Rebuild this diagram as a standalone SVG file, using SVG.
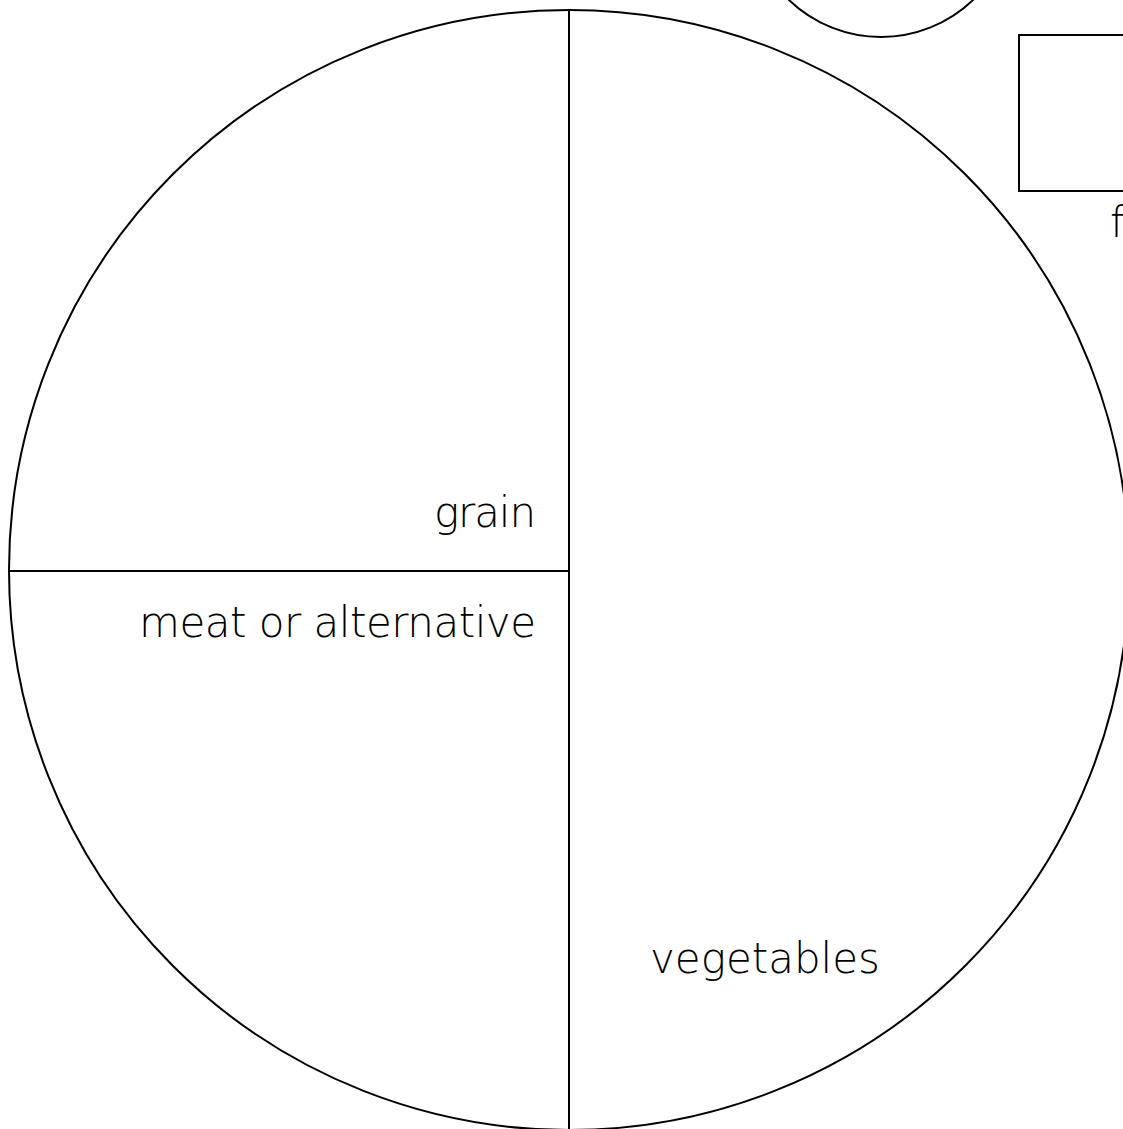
<svg xmlns="http://www.w3.org/2000/svg" width="1123" height="1129" viewBox="0 0 1123 1129">
<style>
.s{fill:none;stroke:#000;stroke-width:2}
.t{font-family:"DejaVu Sans","Liberation Sans",sans-serif;font-size:42px;font-weight:300;fill:#000}
</style>
<rect width="1123" height="1129" fill="#fff"/>
<g id="plate">
<circle class="s" cx="569" cy="570" r="560"/>
</g>
<g id="connectors">
<line class="s" x1="569" y1="10" x2="569" y2="1130"/>
<line class="s" x1="9" y1="571" x2="569" y2="571"/>
</g>
<g id="cup">
<circle class="s" cx="881" cy="-96" r="133"/>
</g>
<g id="box">
<rect class="s" x="1019" y="35" width="120" height="156"/>
<text class="t" x="1110" y="237">f</text>
</g>
<g id="grain"><text class="t" x="536" y="527" text-anchor="end" textLength="102">grain</text></g>
<g id="meat"><text class="t" x="536" y="637" text-anchor="end" textLength="397">meat or alternative</text></g>
<g id="vegetables"><text class="t" x="650" y="973" textLength="230">vegetables</text></g>
</svg>
